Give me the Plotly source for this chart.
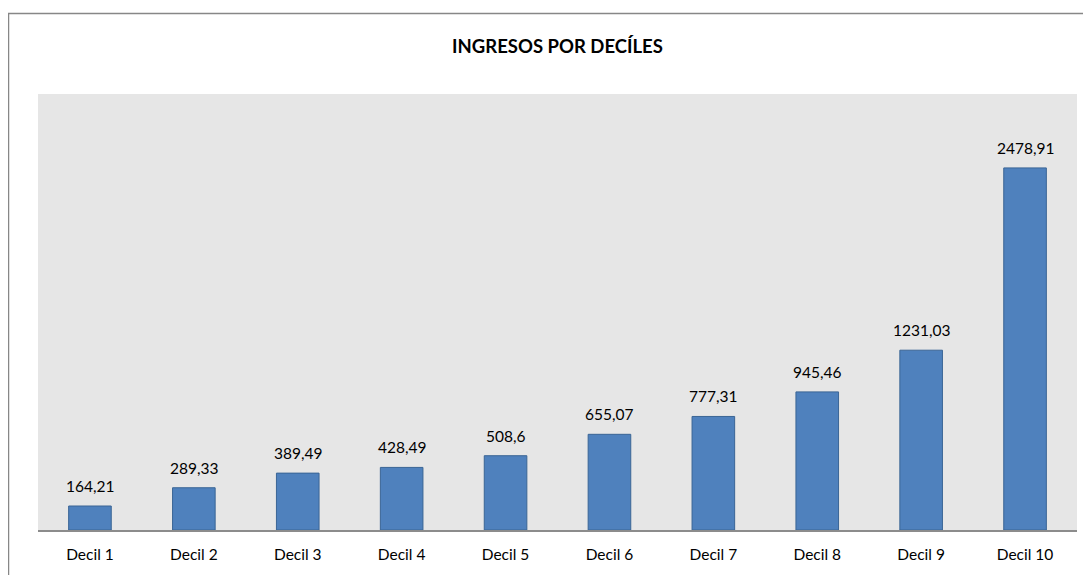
import plotly.graph_objects as go

categories = ["Decil 1", "Decil 2", "Decil 3", "Decil 4", "Decil 5",
              "Decil 6", "Decil 7", "Decil 8", "Decil 9", "Decil 10"]
values = [164.21, 289.33, 389.49, 428.49, 508.6, 655.07, 777.31, 945.46, 1231.03, 2478.91]
labels = [str(v).replace(".", ",") for v in values]
title = "INGRESOS POR DECÍLES"

OFF = 8  # page body margin
W, H = 1091 - OFF, 575 - OFF
ml, mt = 38 - OFF, 94 - OFF
mr = W - (1077 - OFF)
mb = H - (530 - OFF)
pw = W - ml - mr
ph = H - mt - mb

fig = go.Figure(go.Bar(
    x=categories, y=values,
    marker=dict(color="#4f81bd", line=dict(color="#3a6595", width=1)),
    width=0.41,
))

for c, v, t in zip(categories, values, labels):
    fig.add_annotation(x=c, y=v, text=t, showarrow=False, xref="x", yref="y",
                       yanchor="middle", yshift=20,
                       font=dict(size=15.5, family="Lato", color="#000000"))

fig.update_layout(
    width=W, height=H,
    margin=dict(l=ml, r=mr, t=mt, b=mb),
    paper_bgcolor="white", plot_bgcolor="#e6e6e6",
    title=dict(text="<b>" + title + "</b>", x=(557.5 - OFF) / W, xanchor="center",
               y=1 - (47 - OFF) / H, yanchor="middle",
               font=dict(size=18.5, family="Lato", color="#000000")),
    showlegend=False,
    font=dict(family="Lato", size=15.5, color="#000000"),
    xaxis=dict(showline=True, linecolor="#8c8c8c", linewidth=1.5, ticks="",
               ticklabelstandoff=10,
               tickfont=dict(size=15.5, family="Lato"), showgrid=False),
    yaxis=dict(range=[0, 2985], visible=False, showgrid=False),
    shapes=[dict(type="rect", xref="paper", yref="paper",
                 x0=(8.5 - 38) / pw, x1=(1100 - 38) / pw,
                 y0=(530 - 590) / ph, y1=(530 - 13.5) / ph,
                 line=dict(color="#878787", width=1.5), layer="below")],
)

fig.write_html("out.html")
